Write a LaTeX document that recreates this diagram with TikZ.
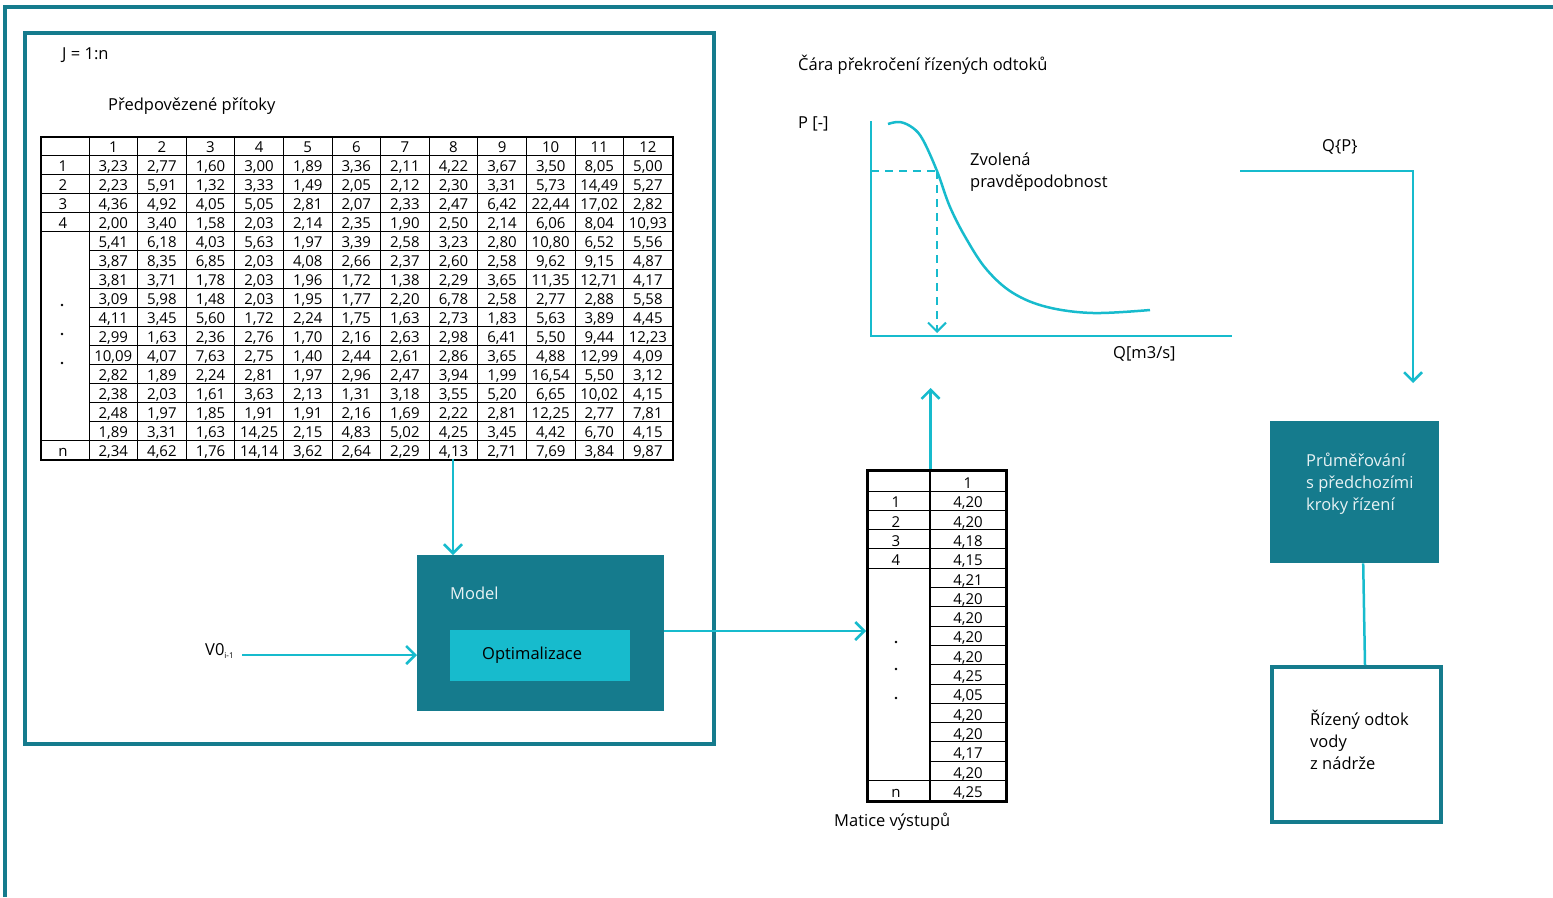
\documentclass[tikz,border=0pt]{standalone}
\usepackage{fontspec}
\setmainfont{Open Sans}
\usetikzlibrary{arrows.meta}

\definecolor{tealdark}{RGB}{21,123,141}
\definecolor{tealbright}{RGB}{23,187,205}
\definecolor{boxtext}{RGB}{232,242,244}

\tikzset{
  frame/.style={draw=tealdark, line width=4pt},
  link/.style={draw=tealbright, line width=2.5pt},
  flow/.style={link, -{Straight Barb[length=9pt, width=18pt]}},
  gridline/.style={line width=1pt},
  cell/.style={anchor=base, inner sep=0pt, font=\fontsize{15}{15}\selectfont},
  lbl/.style={anchor=west, inner sep=0pt, align=left, font=\fontsize{16.5}{22}\selectfont},
}

\begin{document}
\begin{tikzpicture}[x=1pt, y=-1pt]
  \useasboundingbox (0,0) rectangle (1553,897);

  % frames
  \draw[frame] (5,897) -- (5,7) -- (1560,7);
  \draw[frame] (25,33) rectangle (714,744);

  \node[lbl] (loop) at (62,55) {J = 1:n};
  \node[lbl] (inflowlbl) at (108,106) {Předpovězené přítoky};

  % table of forecast inflows
  \node[draw, line width=1.5pt, minimum width=632pt, minimum height=323pt,
        anchor=north west, inner sep=0pt] (inflows) at (40,136) {};
  \foreach \k in {1,...,5,16}
    \draw[gridline] (40,{136+19*\k}) -- (672,{136+19*\k});
  \foreach \k in {6,...,15}
    \draw[gridline] (89,{136+19*\k}) -- (672,{136+19*\k});
  \foreach \c in {0,...,11}
    \draw[gridline] ({89+48.6*\c},136) -- ({89+48.6*\c},459);

  \foreach \c in {1,...,12}
    \node[cell] (h-\c) at ({89+48.6*(\c-0.5)},152.5) {\c};
  \foreach \r/\t in {1/1,2/2,3/3,4/4,16/n}
    \node[cell] (rl-\r) at (63,{136+19*(\r+1)-2.5}) {\t};
  \foreach \y in {305,334,363}
    \fill (62,\y) circle (1.4pt);

  \foreach \vals [count=\r] in {
    {{3,23},{2,77},{1,60},{3,00},{1,89},{3,36},{2,11},{4,22},{3,67},{3,50},{8,05},{5,00}},
    {{2,23},{5,91},{1,32},{3,33},{1,49},{2,05},{2,12},{2,30},{3,31},{5,73},{14,49},{5,27}},
    {{4,36},{4,92},{4,05},{5,05},{2,81},{2,07},{2,33},{2,47},{6,42},{22,44},{17,02},{2,82}},
    {{2,00},{3,40},{1,58},{2,03},{2,14},{2,35},{1,90},{2,50},{2,14},{6,06},{8,04},{10,93}},
    {{5,41},{6,18},{4,03},{5,63},{1,97},{3,39},{2,58},{3,23},{2,80},{10,80},{6,52},{5,56}},
    {{3,87},{8,35},{6,85},{2,03},{4,08},{2,66},{2,37},{2,60},{2,58},{9,62},{9,15},{4,87}},
    {{3,81},{3,71},{1,78},{2,03},{1,96},{1,72},{1,38},{2,29},{3,65},{11,35},{12,71},{4,17}},
    {{3,09},{5,98},{1,48},{2,03},{1,95},{1,77},{2,20},{6,78},{2,58},{2,77},{2,88},{5,58}},
    {{4,11},{3,45},{5,60},{1,72},{2,24},{1,75},{1,63},{2,73},{1,83},{5,63},{3,89},{4,45}},
    {{2,99},{1,63},{2,36},{2,76},{1,70},{2,16},{2,63},{2,98},{6,41},{5,50},{9,44},{12,23}},
    {{10,09},{4,07},{7,63},{2,75},{1,40},{2,44},{2,61},{2,86},{3,65},{4,88},{12,99},{4,09}},
    {{2,82},{1,89},{2,24},{2,81},{1,97},{2,96},{2,47},{3,94},{1,99},{16,54},{5,50},{3,12}},
    {{2,38},{2,03},{1,61},{3,63},{2,13},{1,31},{3,18},{3,55},{5,20},{6,65},{10,02},{4,15}},
    {{2,48},{1,97},{1,85},{1,91},{1,91},{2,16},{1,69},{2,22},{2,81},{12,25},{2,77},{7,81}},
    {{1,89},{3,31},{1,63},{14,25},{2,15},{4,83},{5,02},{4,25},{3,45},{4,42},{6,70},{4,15}},
    {{2,34},{4,62},{1,76},{14,14},{3,62},{2,64},{2,29},{4,13},{2,71},{7,69},{3,84},{9,87}}}
    \foreach \v [count=\c] in \vals
      \node[cell] (t-\r-\c) at ({89+48.6*(\c-0.5)},{136+19*(\r+1)-2.5}) {\v};

  % model
  \node[fill=tealdark, minimum width=247pt, minimum height=156pt,
        anchor=north west, inner sep=0pt] (model) at (417,555) {};
  \node[lbl, text=boxtext] (modellbl) at (450,593) {Model};
  \node[fill=tealbright, minimum width=180pt, minimum height=51pt,
        anchor=north west, inner sep=0pt] (optim) at (450,630) {};
  \node[lbl] (optimlbl) at (482,655) {Optimalizace};
  \node[lbl] (v0) at (205,651) {V0\textsubscript{\fontsize{8}{8}\selectfont i-1}};

  \coordinate (tabfoot) at (453,459);
  \draw[flow] (tabfoot) -- (tabfoot |- model.north);
  \draw[flow] ([xshift=8pt]v0.east |- 0,655) -- (model.west |- 0,655);

  % output matrix
  \node[draw, line width=2.5pt, minimum width=139pt, minimum height=331pt,
        anchor=north west, inner sep=0pt] (outmat) at (866,469) {};
  \foreach \k in {1,...,5,16}
    \draw[gridline] (866,{491+19.3*(\k-1)}) -- (1005,{491+19.3*(\k-1)});
  \foreach \k in {6,...,15}
    \draw[gridline] (930,{491+19.3*(\k-1)}) -- (1005,{491+19.3*(\k-1)});
  \draw[gridline, line width=1.5pt] (930,469) -- (930,800);
  \node[cell] (mh) at (968,488.5) {1};
  \foreach \r/\t in {1/1,2/2,3/3,4/4,16/n}
    \node[cell] (ml-\r) at (896,{491+19.3*\r-2.5}) {\t};
  \foreach \y in {642,669,698}
    \fill (896,\y) circle (1.4pt);
  \foreach \v [count=\r] in {{4,20},{4,20},{4,18},{4,15},{4,21},{4,20},{4,20},{4,20},
                             {4,20},{4,25},{4,05},{4,20},{4,20},{4,17},{4,20},{4,25}}
    \node[cell] (m-\r) at (968,{491+19.3*\r-2.5}) {\v};
  \node[lbl] (matlbl) at (834,822) {Matice výstupů};

  \draw[flow] (model.east |- 0,631) -- (outmat.west |- 0,631);
  \coordinate (matdiv) at (930.5,469);
  \coordinate (graphin) at (930.5,388);
  \draw[flow] (matdiv) -- (graphin);

  % exceedance curve
  \node[lbl] (curvelbl) at (798,65) {Čára překročení řízených odtoků};
  \node[lbl] (plbl) at (798,124) {P [-]};
  \node[lbl] (qlbl) at (1113,354) {Q[m3/s]};
  \node[lbl] (problbl) at (970,172) {Zvolená\\pravděpodobnost};
  \draw[link] (871,121) -- (871,336) -- (1232,336);
  \draw[link] plot[smooth, tension=0.6] coordinates {
    (888,124) (900,122) (913,128) (923,140) (937,171) (950,207) (967,240)
    (987,270) (1013,293) (1047,307) (1093,313) (1150,310)};
  \draw[link, line width=2pt, dash pattern=on 8pt off 6pt] (871,171) -- (937,171);
  \draw[flow, line width=2pt, dash pattern=on 8pt off 6pt] (937,171) -- (937,333);

  % averaging and release
  \node[lbl] (qp) at (1322,147) {Q\{P\}};
  \coordinate (qstart) at (1240,171);
  \coordinate (qend) at (1413,383);
  \draw[flow] (qstart) -| (qend);

  \node[fill=tealdark, minimum width=169pt, minimum height=142pt,
        anchor=north west, inner sep=0pt] (avg) at (1270,421) {};
  \node[lbl, text=boxtext] (avglbl) at (1306,484)
    {Průměřování\\s předchozími\\kroky řízení};
  \node[draw=tealdark, line width=4pt, minimum width=169pt, minimum height=155pt,
        anchor=north west, inner sep=0pt] (release) at (1270,665) {};
  \node[lbl] (releaselbl) at (1310,740) {Řízený odtok\\vody\\z nádrže};
  \draw[link] ([xshift=8.5pt]avg.south) -- ([xshift=8.5pt]release.north);
\end{tikzpicture}
\end{document}
